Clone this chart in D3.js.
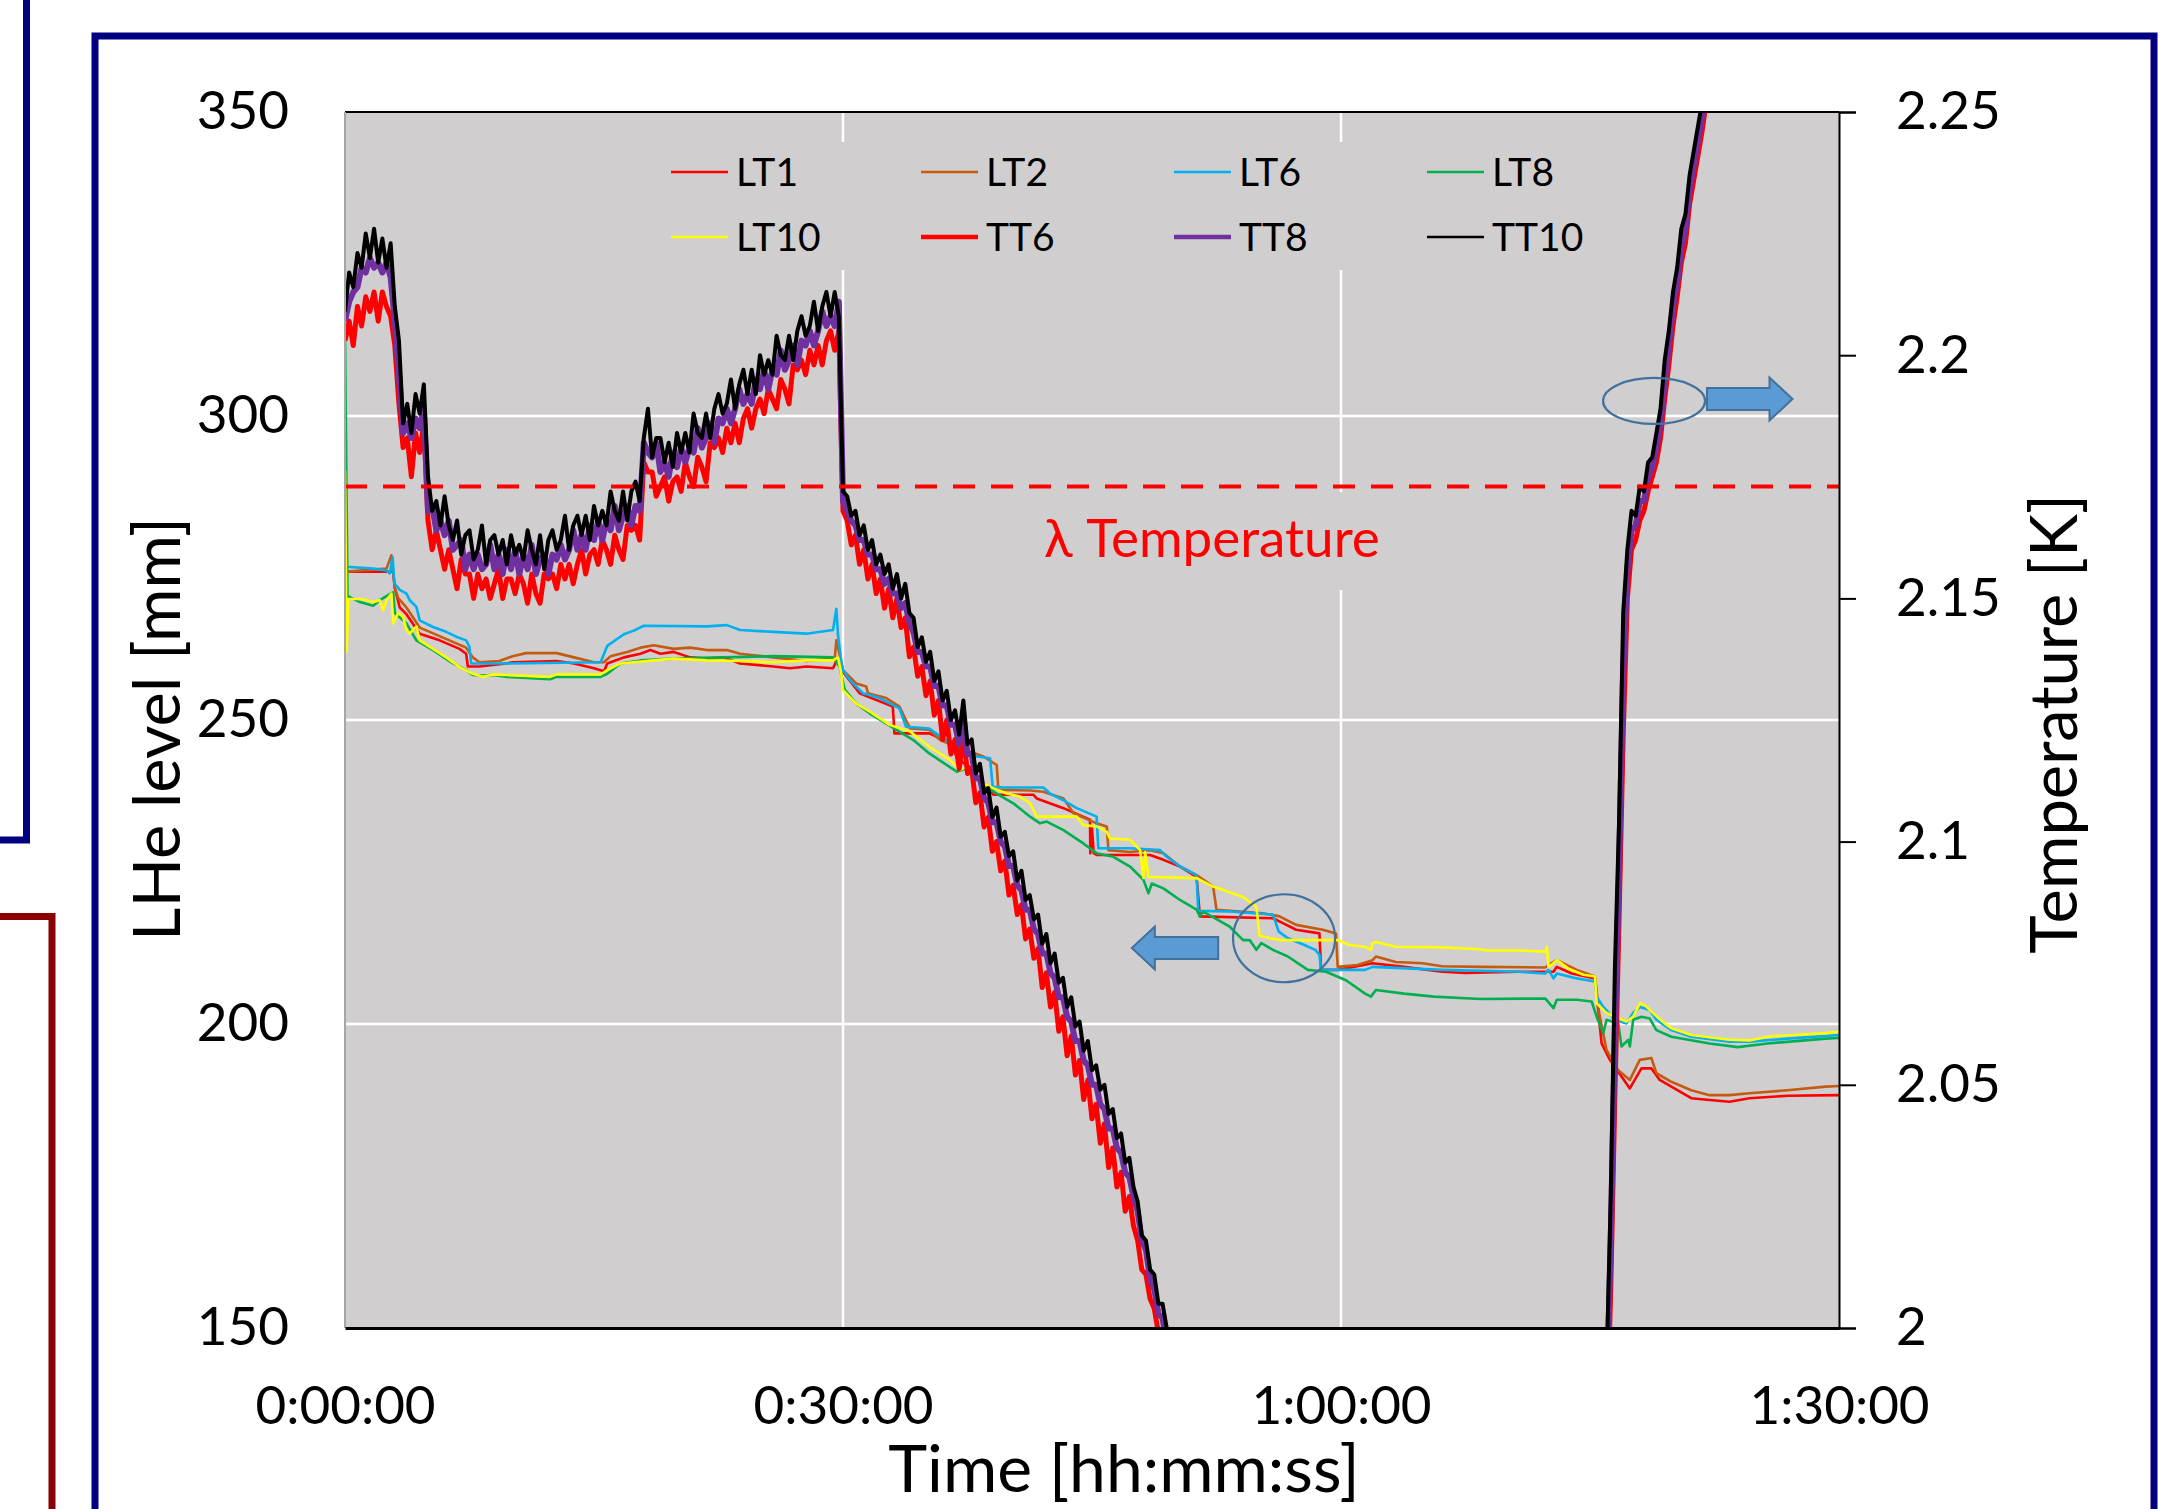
<!DOCTYPE html>
<html>
<head>
<meta charset="utf-8">
<script src="https://cdn.jsdelivr.net/npm/d3@7"></script>
<style>
  body { margin: 0; background: #fff; }
  svg { display: block; }
  text { font-family: Lato, "Open Sans", sans-serif; fill: #000; }
</style>
</head>
<body>
<svg id="chart" width="2184" height="1509"></svg>
<script>
// ---- axis ticks ----
const xTicks = [0, 30, 60, 90]; // minutes
const xTickLabels = ["0:00:00", "0:30:00", "1:00:00", "1:30:00"];
const levelTicks = [150, 200, 250, 300, 350];
const tempTicks = [2, 2.05, 2.1, 2.15, 2.2, 2.25];
const tempTickLabels = ["2", "2.05", "2.1", "2.15", "2.2", "2.25"];
const lambdaT = 2.173;

// ---- LHe level sensors [minutes, mm] ----
const lt1 = [[0,289],[0.1,274.4],[2.9,274.4],[3.0,271.7],[3.3,268.5],[3.7,267.4],[4.5,264.2],[5.7,263.1],[6.9,261.7],[7.3,260.9],[7.4,258.8],[8.1,258.8],[9.7,259.3],[10.1,259.5],[12.75,259.7],[13.8,259.3],[15.0,258.5],[15.6,258.0],[15.8,259.3],[16.8,260.3],[17.8,260.9],[18.4,261.5],[19.0,260.9],[19.8,261.2],[20.8,260.3],[21.8,260.1],[22.8,260.3],[23.8,259.3],[25.8,258.8],[26.8,258.5],[27.8,258.8],[29.4,258.5],[29.7,260.3],[29.9,258.8],[30.0,257.9],[31.0,254.4],[33.0,252.2],[33.1,247.8],[35.2,247.8],[36.45,246.2],[36.85,244.0],[37.25,242.9],[37.65,242.3],[39.06,237.7],[41.47,237.7],[41.67,237.1],[43.28,235.5],[44.88,233.6],[44.9,228.1],[45.0,232.2],[45.1,228.1],[45.28,227.8],[48.5,227.8],[49.3,227.0],[50.3,225.9],[51.3,224.2],[51.5,217.7],[55.9,217.4],[56.5,216.6],[57.3,215.5],[58.7,214.9],[58.8,208.9],[59.8,208.9],[61.9,210.0],[63.8,209.4],[66.1,208.6],[67.5,208.4],[70.7,208.6],[72.8,208.6],[73.0,209.4],[73.9,208.3],[75.3,207.5],[75.7,196.8],[76.2,194.1],[77.4,189.4],[78.1,192.7],[78.7,192.7],[79.2,190.8],[79.9,189.7],[81.1,187.8],[82.2,187.5],[83.4,187.2],[84.6,187.8],[86.9,188.2],[90,188.3]];
const lt2 = [[0,288.6],[0.1,274.4],[2.5,274.9],[2.8,277.1],[3.0,271.7],[3.2,270.1],[3.7,268.5],[4.5,265.2],[5.7,263.8],[7.3,261.9],[7.7,260.3],[8.1,259.5],[9.3,259.7],[10.1,260.5],[10.9,261.0],[12.75,261.0],[13.8,260.3],[15.0,259.5],[15.6,259.5],[16.0,260.5],[17.0,261.2],[17.8,261.9],[18.6,262.3],[19.8,261.7],[20.8,261.9],[21.8,261.5],[23.0,261.5],[23.8,260.9],[25.8,260.3],[27.8,259.7],[29.5,260.1],[29.6,263.1],[29.8,260.7],[30.0,258.2],[30.8,256.0],[31.4,255.5],[31.5,254.4],[32.6,253.6],[33.4,252.2],[34.04,248.6],[35.2,248.4],[35.85,246.7],[36.85,245.6],[38.46,244.0],[39.26,242.6],[39.36,238.5],[41.27,238.4],[42.07,238.2],[43.28,237.1],[43.88,234.7],[45.28,233.0],[45.89,232.5],[45.99,228.6],[47.29,228.3],[48.5,228.6],[49.3,228.1],[50.3,225.9],[51.3,224.5],[52.3,222.6],[52.5,218.8],[55.3,218.2],[56.3,217.7],[57.3,216.3],[58.9,215.5],[59.7,214.9],[59.8,209.4],[61.0,209.7],[61.9,210.5],[62.1,211.1],[63.3,210.2],[64.9,210.0],[66.1,209.5],[68.4,209.4],[72.3,209.3],[72.5,209.7],[73.0,210.5],[74.2,208.9],[75.3,207.8],[75.55,201.8],[76.0,195.7],[76.7,192.4],[77.4,190.8],[78.0,194.1],[78.7,194.4],[79.0,191.9],[79.9,190.5],[81.1,189.1],[82.2,188.3],[83.4,188.3],[84.6,188.6],[86.9,189.1],[89.2,189.7],[90,189.8]];
const lt6 = [[0,295.6],[0.1,275.2],[1.7,274.9],[2.5,274.6],[2.7,274.1],[2.87,276.8],[2.97,272.5],[3.3,271.4],[3.7,270.8],[3.9,269.7],[4.3,268.6],[4.5,266.4],[5.3,265.3],[6.1,264.5],[6.7,263.7],[7.3,263.1],[7.5,262.0],[7.6,259.3],[9.7,259.3],[15.4,259.5],[15.8,262.2],[16.8,264.1],[17.4,264.7],[18.0,265.5],[21.8,265.4],[23.0,265.6],[23.8,264.8],[25.8,264.5],[27.8,264.2],[29.4,264.8],[29.6,268.3],[29.7,263.9],[29.9,259.6],[30.0,258.2],[30.4,256.6],[31.2,254.4],[32.2,253.6],[33.4,251.9],[33.8,248.9],[35.2,248.6],[35.85,247.3],[36.45,246.2],[38.05,244.0],[38.86,243.7],[39.02,239.0],[39.66,238.9],[42.07,238.9],[42.47,237.9],[43.28,236.8],[44.08,235.5],[45.28,234.1],[45.38,228.9],[47.29,228.9],[49.1,228.6],[49.5,227.5],[50.3,225.9],[51.3,224.5],[51.4,218.6],[53.3,218.5],[55.9,218.0],[56.25,215.2],[56.8,214.1],[57.8,213.0],[58.45,212.2],[58.7,211.4],[58.8,208.9],[61.45,208.9],[61.9,209.4],[66.1,208.9],[70.7,208.6],[72.3,208.3],[72.5,208.9],[72.8,207.5],[73.0,208.3],[74.2,207.5],[75.3,207.0],[75.4,204.5],[75.8,202.8],[76.5,200.7],[77.2,200.1],[77.6,201.8],[78.0,202.8],[78.6,202.3],[79.0,200.7],[79.9,199.0],[81.1,197.9],[83.4,197.1],[84.6,197.1],[86.9,197.6],[90,198.2]];
const lt8 = [[0,313.6],[0.15,270.4],[0.9,269.4],[1.7,268.8],[2.1,269.7],[2.7,270.7],[2.9,271.0],[3.0,267.6],[3.7,265.9],[4.3,263.1],[5.3,261.5],[6.5,259.3],[7.3,258.2],[7.7,257.4],[8.3,257.3],[8.9,257.4],[9.7,257.1],[12.35,256.7],[12.75,257.1],[15.4,257.1],[15.8,257.6],[16.6,259.3],[17.8,259.8],[19.8,260.1],[25.8,260.5],[29.4,260.3],[29.8,258.7],[30.1,255.0],[30.8,252.7],[31.6,251.1],[33.2,248.4],[34.24,246.7],[35.2,244.5],[36.85,241.5],[37.45,242.05],[38.05,240.1],[39.26,237.9],[40.26,236.3],[41.27,234.1],[41.87,233.0],[42.27,233.3],[43.28,231.9],[44.48,229.7],[45.28,228.1],[46.29,227.5],[47.29,225.9],[48.1,223.7],[48.4,221.5],[48.6,223.1],[49.3,222.3],[50.3,220.4],[51.3,218.8],[51.5,217.7],[51.7,218.5],[53.3,216.0],[54.1,213.8],[54.5,213.8],[54.9,212.2],[55.2,213.3],[55.9,212.2],[56.8,211.1],[58.0,208.9],[59.1,208.6],[60.3,207.2],[61.45,205.0],[61.8,204.5],[62.1,205.6],[63.8,205.0],[65.6,204.5],[68.4,204.1],[72.3,204.2],[72.8,202.6],[73.0,204.0],[74.2,204.0],[75.1,203.7],[75.4,201.2],[75.8,198.5],[76.0,200.7],[76.7,200.1],[76.9,196.3],[77.3,197.4],[77.4,196.3],[77.6,200.7],[78.1,201.2],[78.6,200.9],[79.0,199.0],[79.9,197.9],[82.2,196.8],[83.9,196.2],[85.7,196.8],[89.2,197.6],[90,197.7]];
const lt10 = [[0,291],[0.1,261.2],[0.2,269.9],[1.0,269.9],[1.3,269.7],[1.7,269.4],[2.1,269.7],[2.3,268.0],[2.5,269.7],[2.8,270.8],[2.9,265.9],[3.2,267.6],[3.5,267.0],[3.7,264.8],[3.9,264.2],[4.3,265.4],[4.5,263.1],[5.3,261.7],[6.1,260.3],[6.9,258.7],[7.7,257.6],[8.3,257.1],[8.9,257.5],[9.7,257.4],[12.35,257.1],[12.75,257.5],[15.4,257.5],[15.8,258.2],[16.6,259.3],[17.4,259.5],[18.6,259.8],[19.8,260.1],[21.8,259.8],[23.8,259.7],[25.8,259.5],[27.8,259.8],[29.4,259.8],[29.7,260.3],[29.9,257.6],[30.0,254.9],[30.4,253.8],[30.8,252.7],[31.6,251.4],[32.8,249.2],[34.04,248.1],[35.2,245.6],[36.45,243.4],[37.05,241.8],[37.45,242.3],[38.05,240.1],[38.86,239.0],[39.86,237.9],[40.67,237.4],[41.27,236.3],[41.67,234.1],[44.08,234.1],[44.48,232.7],[45.28,232.5],[45.89,231.6],[46.09,230.5],[47.29,230.3],[47.9,228.6],[48.1,224.0],[48.2,228.3],[48.4,224.2],[51.3,224.0],[52.3,222.6],[54.1,220.9],[54.9,219.3],[55.1,214.5],[56.3,213.8],[59.8,213.8],[60.5,213.0],[61.45,212.7],[61.8,212.2],[61.9,213.3],[62.1,213.5],[63.3,212.7],[66.1,212.6],[68.4,212.3],[68.8,212.1],[70.7,212.1],[72.3,211.9],[72.4,212.7],[72.5,209.4],[72.8,210.0],[73.0,210.5],[73.7,209.1],[74.6,208.1],[75.3,207.8],[75.4,203.4],[76.0,201.8],[76.5,201.2],[77.2,200.4],[77.6,201.2],[78.0,203.4],[78.3,203.1],[78.8,201.8],[79.5,200.1],[79.9,199.3],[81.1,198.2],[83.4,197.4],[84.6,197.3],[85.7,197.9],[87.3,198.2],[89.2,198.5],[90,198.7]];

// ---- temperature sensors [K], sampled every 0.25 min ----
const sampleStep = 0.25;
const coolStart = 0;   // first run, 0:00 -> 0:50
const warmStart = 76;  // second run, 1:16 -> 1:22
const tt10Cool = [2.209,2.217,2.214,2.221,2.218,2.225,2.220,2.226,2.219,2.224,2.218,2.223,2.210,2.203,2.186,2.190,2.184,2.192,2.188,2.194,
  2.175,2.168,2.170,2.165,2.171,2.165,2.162,2.166,2.159,2.163,2.164,2.158,2.160,2.165,2.157,2.162,2.163,2.159,2.162,2.157,
  2.163,2.159,2.161,2.158,2.164,2.160,2.157,2.163,2.156,2.162,2.164,2.160,2.162,2.167,2.160,2.165,2.167,2.163,2.167,2.162,
  2.169,2.165,2.168,2.165,2.172,2.168,2.166,2.172,2.166,2.172,2.174,2.170,2.183,2.189,2.179,2.183,2.183,2.178,2.182,2.177,
  2.184,2.180,2.184,2.180,2.188,2.184,2.183,2.188,2.183,2.189,2.192,2.188,2.190,2.195,2.189,2.194,2.197,2.192,2.197,2.192,
  2.200,2.196,2.199,2.196,2.204,2.200,2.199,2.204,2.199,2.205,2.208,2.204,2.206,2.211,2.205,2.210,2.213,2.208,2.213,2.208,
  2.172,
  2.171,2.167,2.168,2.163,2.165,2.160,2.162,2.157,2.159,2.155,2.157,2.152,2.155,2.150,2.153,2.147,2.146,2.140,2.142,2.137,
  2.139,2.133,2.135,2.129,2.131,2.125,2.127,2.122,2.129,2.120,2.121,2.114,2.116,2.110,2.111,2.105,2.107,2.101,2.102,2.097,
  2.098,2.092,2.094,2.088,2.089,2.084,2.085,2.079,2.081,2.075,2.077,2.071,2.072,2.066,2.068,2.062,2.063,2.057,2.059,2.053,
  2.054,2.049,2.050,2.044,2.045,2.039,2.040,2.034,2.035,2.029,2.026,2.019,2.018,2.012,2.011,2.005,2.005,2.000,1.996,1.992];
const tt8Cool = [2.207,2.211,2.213,2.214,2.218,2.217,2.220,2.218,2.219,2.217,2.219,2.216,2.207,2.196,2.184,2.186,2.183,2.187,2.185,2.189,
  2.168,2.169,2.164,2.166,2.163,2.166,2.160,2.161,2.162,2.156,2.159,2.156,2.159,2.156,2.157,2.161,2.156,2.159,2.155,2.160,
  2.156,2.160,2.155,2.159,2.156,2.161,2.155,2.158,2.159,2.155,2.159,2.158,2.161,2.158,2.160,2.164,2.160,2.163,2.160,2.165,
  2.162,2.166,2.162,2.166,2.164,2.169,2.164,2.167,2.169,2.165,2.169,2.168,2.182,2.180,2.179,2.182,2.176,2.178,2.175,2.180,
  2.177,2.181,2.178,2.181,2.180,2.185,2.181,2.183,2.186,2.182,2.187,2.186,2.189,2.186,2.189,2.193,2.190,2.192,2.190,2.195,
  2.193,2.197,2.193,2.197,2.196,2.201,2.197,2.199,2.202,2.198,2.203,2.202,2.205,2.202,2.205,2.209,2.206,2.208,2.206,2.211,
  2.170,
  2.168,2.166,2.165,2.162,2.162,2.159,2.159,2.156,2.156,2.153,2.154,2.151,2.151,2.148,2.149,2.145,2.143,2.139,2.139,2.136,
  2.136,2.132,2.132,2.128,2.128,2.124,2.124,2.120,2.125,2.118,2.118,2.113,2.113,2.109,2.108,2.104,2.104,2.100,2.099,2.095,
  2.095,2.091,2.090,2.086,2.086,2.082,2.081,2.077,2.077,2.073,2.072,2.068,2.068,2.064,2.063,2.059,2.059,2.055,2.054,2.050,
  2.050,2.046,2.045,2.041,2.041,2.037,2.036,2.032,2.031,2.027,2.024,2.018,2.016,2.010,2.008,2.003,2.002,1.997,1.993,1.989];
const tt6Cool = [2.203,2.207,2.202,2.210,2.206,2.212,2.209,2.213,2.207,2.213,2.210,2.208,2.202,2.190,2.181,2.183,2.175,2.184,2.180,2.186,
  2.166,2.160,2.164,2.160,2.156,2.160,2.156,2.152,2.158,2.155,2.155,2.150,2.155,2.152,2.154,2.150,2.153,2.156,2.150,2.154,
  2.154,2.151,2.155,2.153,2.149,2.155,2.151,2.149,2.155,2.154,2.155,2.152,2.157,2.154,2.157,2.153,2.157,2.160,2.155,2.159,
  2.160,2.157,2.162,2.160,2.157,2.163,2.160,2.158,2.165,2.164,2.165,2.162,2.178,2.176,2.176,2.171,2.173,2.175,2.170,2.174,
  2.175,2.172,2.178,2.175,2.173,2.179,2.177,2.174,2.182,2.181,2.183,2.180,2.185,2.182,2.186,2.182,2.187,2.189,2.185,2.189,
  2.191,2.188,2.193,2.191,2.189,2.195,2.193,2.190,2.198,2.197,2.199,2.196,2.201,2.198,2.202,2.198,2.203,2.205,2.201,2.205,
  2.168,
  2.166,2.161,2.163,2.157,2.160,2.154,2.157,2.151,2.154,2.148,2.152,2.146,2.150,2.144,2.146,2.138,2.140,2.134,2.136,2.130,
  2.133,2.126,2.129,2.121,2.125,2.118,2.121,2.115,2.122,2.114,2.115,2.108,2.110,2.103,2.105,2.098,2.100,2.094,2.096,2.089,
  2.091,2.085,2.087,2.080,2.082,2.076,2.078,2.070,2.073,2.066,2.069,2.061,2.064,2.056,2.060,2.052,2.055,2.047,2.051,2.043,
  2.046,2.038,2.042,2.033,2.037,2.029,2.032,2.024,2.027,2.021,2.018,2.012,2.011,2.006,2.004,1.999,1.998,1.993,1.989,1.985];
const tt10Warm = [1.992,2.027,2.074,2.104,2.147,2.160,2.168,2.167,2.173,2.172,2.178,2.179,2.184,2.189,2.199,2.205,2.213,2.218,2.226,2.229,2.237,2.242,2.247,2.252,2.258];
const tt8Warm = [1.985,2.018,2.060,2.094,2.135,2.156,2.164,2.165,2.170,2.170,2.175,2.177,2.181,2.186,2.195,2.202,2.210,2.215,2.222,2.226,2.234,2.239,2.244,2.249,2.255];
const tt6Warm = [1.978,2.008,2.048,2.084,2.122,2.150,2.160,2.162,2.166,2.168,2.172,2.175,2.178,2.183,2.191,2.198,2.206,2.212,2.219,2.223,2.231,2.236,2.241,2.246,2.252];

const levelSeries = [
  { name: "LT1", color: "#ff0000", width: 2.6, data: lt1 },
  { name: "LT2", color: "#c55a11", width: 2.6, data: lt2 },
  { name: "LT6", color: "#00b0f0", width: 2.6, data: lt6 },
  { name: "LT8", color: "#00b050", width: 2.6, data: lt8 },
  { name: "LT10", color: "#ffff00", width: 2.6, data: lt10 },
];
const tempSeries = [
  { name: "TT6", color: "#ff0000", width: 5, runs: [tt6Cool, tt6Warm] },
  { name: "TT8", color: "#7030a0", width: 6, runs: [tt8Cool, tt8Warm] },
  { name: "TT10", color: "#000000", width: 4, runs: [tt10Cool, tt10Warm] },
];
const runStarts = [coolStart, warmStart];

// ---- layout ----
const plot = { left: 345, right: 1839, top: 112, bottom: 1328 };
const plotBg = "#d0cecf";
const svg = d3.select("#chart");

const x = d3.scaleLinear().domain([0, 90]).range([plot.left, plot.right]);
const yLevel = d3.scaleLinear().domain([150, 350]).range([plot.bottom, plot.top]);
const yTemp = d3.scaleLinear().domain([2, 2.25]).range([plot.bottom, plot.top]);

// frames around the slide panel
const navy = "#000080";
svg.append("rect").attr("x", 95).attr("y", 36).attr("width", 2059).attr("height", 1600)
  .attr("fill", "none").attr("stroke", navy).attr("stroke-width", 7);
svg.append("path").attr("d", "M26.5,-10 V840 H-10")
  .attr("fill", "none").attr("stroke", navy).attr("stroke-width", 7);
svg.append("path").attr("d", "M-10,916.5 H52 V1520")
  .attr("fill", "none").attr("stroke", "#8b0000").attr("stroke-width", 7);

// plot background
svg.append("rect").attr("x", plot.left).attr("y", plot.top)
  .attr("width", plot.right - plot.left).attr("height", plot.bottom - plot.top)
  .attr("fill", plotBg);

// gridlines
let grid = svg.append("g").attr("stroke", "#fff").attr("stroke-width", 2.5);
grid.selectAll(".h").data(levelTicks.slice(1, -1)).enter().append("line")
  .attr("x1", plot.left).attr("x2", plot.right)
  .attr("y1", (d) => yLevel(d)).attr("y2", (d) => yLevel(d));
grid.selectAll(".v").data(xTicks.slice(1, -1)).enter().append("line")
  .attr("x1", (d) => x(d)).attr("x2", (d) => x(d))
  .attr("y1", plot.top).attr("y2", plot.bottom);

// legend and label boxes hide the gridlines behind them
svg.append("rect").attr("x", 650).attr("y", 142).attr("width", 970).attr("height", 128).attr("fill", plotBg);
svg.append("rect").attr("x", 1030).attr("y", 492).attr("width", 380).attr("height", 98).attr("fill", plotBg);

svg.append("text").attr("x", 1044).attr("y", 557)
  .attr("font-size", 53).style("fill", "#ff0000").text("λ Temperature");

// series
svg.append("clipPath").attr("id", "plotClip").append("rect")
  .attr("x", plot.left).attr("y", plot.top)
  .attr("width", plot.right - plot.left).attr("height", plot.bottom - plot.top);
let lines = svg.append("g").attr("clip-path", "url(#plotClip)")
  .attr("fill", "none").attr("stroke-linejoin", "round");

let levelLine = d3.line().x((d) => x(d[0])).y((d) => yLevel(d[1]));
lines.selectAll(".lt").data(levelSeries).enter().append("path")
  .attr("d", (d) => levelLine(d.data))
  .attr("stroke", (d) => d.color).attr("stroke-width", (d) => d.width);

let tempLine = d3.line().x((d) => x(d[0])).y((d) => yTemp(d[1]));
tempSeries.forEach((s) => {
  s.runs.forEach((values, r) => {
    let pts = values.map((v, i) => [runStarts[r] + i * sampleStep, v]);
    lines.append("path").attr("d", tempLine(pts))
      .attr("stroke", s.color).attr("stroke-width", s.width);
  });
});

// lambda point line
svg.append("line").attr("x1", plot.left).attr("x2", plot.right)
  .attr("y1", yTemp(lambdaT)).attr("y2", yTemp(lambdaT))
  .attr("stroke", "#ff0000").attr("stroke-width", 4).attr("stroke-dasharray", "22,16");

// axes frame
svg.append("line").attr("x1", plot.left).attr("x2", plot.right).attr("y1", plot.top).attr("y2", plot.top)
  .attr("stroke", "#000").attr("stroke-width", 2);
svg.append("line").attr("x1", plot.left).attr("x2", plot.left).attr("y1", plot.top).attr("y2", plot.bottom)
  .attr("stroke", "#a6a6a6").attr("stroke-width", 2);

let leftAxis = svg.append("g").attr("transform", `translate(${plot.left},0)`)
  .call(d3.axisLeft(yLevel).tickValues(levelTicks).tickSize(0).tickPadding(56));
leftAxis.select(".domain").remove();

let rightAxis = svg.append("g").attr("transform", `translate(${plot.right},0)`)
  .call(d3.axisRight(yTemp).tickValues(tempTicks).tickSize(17).tickPadding(40)
    .tickFormat((d, i) => tempTickLabels[i]));
rightAxis.select(".domain").attr("stroke-width", 2);
rightAxis.selectAll(".tick line").attr("stroke-width", 2);

let bottomAxis = svg.append("g").attr("transform", `translate(0,${plot.bottom})`)
  .call(d3.axisBottom(x).tickValues(xTicks).tickSize(0).tickPadding(58)
    .tickFormat((d, i) => xTickLabels[i]));
bottomAxis.select(".domain").attr("stroke-width", 3);

svg.selectAll(".tick text").attr("font-size", 53).attr("font-family", null).style("fill", "#000");
[leftAxis, rightAxis, bottomAxis].forEach((g) => g.attr("font-family", null).attr("font-size", null));

// axis titles
svg.append("text").attr("x", 1124).attr("y", 1492).attr("text-anchor", "middle")
  .attr("font-size", 66).text("Time [hh:mm:ss]");
svg.append("text").attr("transform", "translate(180,729) rotate(-90)").attr("text-anchor", "middle")
  .attr("font-size", 65).text("LHe level [mm]");
svg.append("text").attr("transform", "translate(2077,724) rotate(-90)").attr("text-anchor", "middle")
  .attr("font-size", 65).text("Temperature [K]");

// annotations: ellipses and block arrows
const annotBlue = "#41719c";
svg.append("ellipse").attr("cx", x(78.86)).attr("cy", yTemp(2.1906)).attr("rx", 51).attr("ry", 23)
  .attr("fill", "none").attr("stroke", annotBlue).attr("stroke-width", 2.2);
svg.append("ellipse").attr("cx", x(56.57)).attr("cy", yLevel(214.1)).attr("rx", 51).attr("ry", 44)
  .attr("fill", "none").attr("stroke", annotBlue).attr("stroke-width", 2.2);

function blockArrow(x0, x1, cy, dir) {
  // x0 = tail, x1 = tip
  let head = 23 * dir;
  let p = d3.path();
  p.moveTo(x0, cy - 11);
  p.lineTo(x1 - head, cy - 11);
  p.lineTo(x1 - head, cy - 21.5);
  p.lineTo(x1, cy);
  p.lineTo(x1 - head, cy + 21.5);
  p.lineTo(x1 - head, cy + 11);
  p.lineTo(x0, cy + 11);
  p.closePath();
  svg.append("path").attr("d", p.toString())
    .attr("fill", "#5b9bd5").attr("stroke", annotBlue).attr("stroke-width", 2);
}
blockArrow(x(82.05), x(87.2), yTemp(2.191), 1);
blockArrow(x(52.6), x(47.4), yLevel(212.5), -1);

// legend
const legendCols = [671, 921, 1174, 1427];
const legendRows = [172, 237];
const legendItems = levelSeries.concat(tempSeries);
let legend = svg.append("g");
legendItems.forEach((s, i) => {
  let lx = legendCols[i % 4];
  let ly = legendRows[Math.floor(i / 4)];
  legend.append("line").attr("x1", lx).attr("x2", lx + 57).attr("y1", ly).attr("y2", ly)
    .attr("stroke", s.color).attr("stroke-width", s.runs ? (s.name === "TT10" ? 2.5 : 4.5) : 2.6);
  legend.append("text").attr("x", lx + 65).attr("y", ly + 14)
    .attr("font-size", 39).text(s.name);
});
</script>
</body>
</html>
